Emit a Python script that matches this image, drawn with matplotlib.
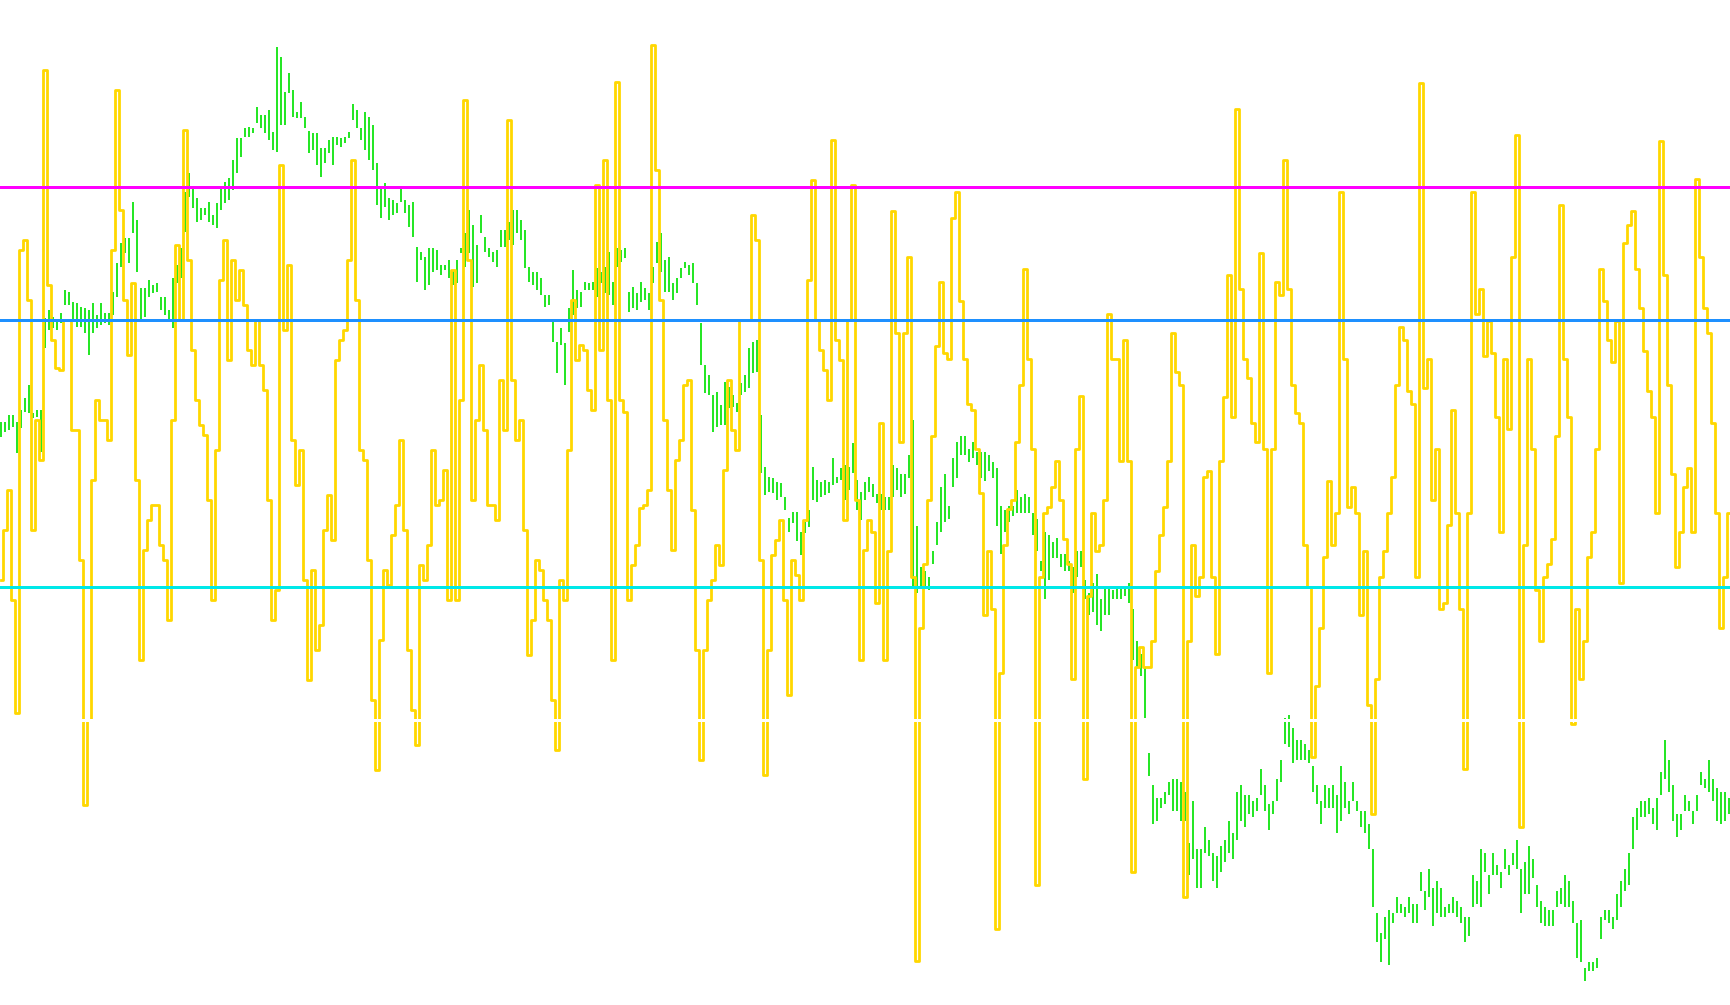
import numpy as np
import matplotlib.pyplot as plt

# price bars (high / low), one entry per sampled bar, left to right
bar_high = [
    107.8, 107.8, 108.5, 108.5, 107.8, 109.0, 110.2, 111.5, 108.7, 109.0,
    109.0, 118.2, 119.0, 118.3, 118.0, 118.7, 121.0, 120.8, 119.8, 119.7,
    119.3, 119.2, 119.0, 119.7, 118.5, 119.7, 118.7, 118.7, 120.8, 123.7,
    125.7, 126.2, 126.2, 129.8, 128.0, 121.2, 121.2, 122.0, 121.5, 121.7,
    120.3, 120.3, 119.0, 122.2, 123.5, 125.2, 130.8, 132.7, 131.2, 130.2,
    129.2, 129.2, 129.8, 128.5, 129.7, 131.3, 131.8, 132.2, 134.0, 136.2,
    136.2, 137.2, 137.3, 137.2, 139.3, 138.5, 138.5, 139.0, 136.8, 145.3,
    144.3, 140.8, 142.7,
    141.0, 138.8, 139.8, 138.3, 136.9, 136.7, 136.7, 135.2, 135.2, 136.0,
    136.3, 136.3, 136.2, 136.3, 136.8, 139.6, 139.0, 137.2, 138.8, 138.3,
    137.5, 133.7, 131.2, 131.7, 130.2, 130.0, 129.7, 131.2, 130.0, 129.5,
    129.8, 125.3, 124.8, 124.3, 125.2, 125.2, 125.0, 123.5, 123.5, 124.0,
    123.0, 124.0, 125.2, 126.7, 129.0, 127.5, 125.5, 128.5, 126.3, 125.2,
    124.8, 125.0, 127.0, 127.0, 127.8, 129.0, 129.0, 128.0, 127.0, 123.3,
    122.8, 122.8, 122.2, 120.5, 120.5, 117.8, 115.8, 117.2, 115.7, 119.2,
    123.0, 121.0,
    120.8, 121.8, 121.7, 121.8, 123.2, 122.8, 123.3, 124.8, 121.8, 125.2,
    125.0, 125.2, 120.8, 121.3, 120.7, 121.8, 121.2, 120.7, 123.3, 125.8,
    126.7, 124.0, 124.3, 121.7, 122.2, 123.2, 123.8, 123.5, 123.7, 121.7,
    117.7, 113.5, 112.5, 110.5, 110.8, 109.5, 111.8, 111.3, 110.5, 109.7,
    111.7, 112.5, 115.2, 115.8, 116.0, 108.5, 103.3, 102.3, 102.2, 101.8,
    101.7, 100.3, 98.2, 98.8, 98.8, 96.8, 97.8, 99.0, 103.3, 102.0,
    101.8, 102.0, 101.8, 104.2, 102.3, 103.2, 103.5, 103.3, 105.7, 102.0,
    100.8, 101.8, 102.3,
    101.6, 100.6, 100.6, 100.3, 100.3, 103.5, 103.2, 102.6, 102.6, 104.5,
    108.0, 97.4, 93.3, 92.9, 92.3, 94.9, 97.8, 101.3, 102.6, 99.4,
    104.2, 105.8, 106.4, 106.4, 105.1, 105.8, 104.8, 104.8, 104.8, 104.5,
    103.8, 103.2, 99.4, 99.0, 99.4, 99.4, 101.0, 100.3, 100.6, 100.3,
    98.7, 98.1, 93.9, 96.8, 96.5, 95.8, 96.2, 94.6, 94.6, 93.9,
    93.3, 94.9, 94.9, 92.0, 90.7, 91.7, 92.6, 90.1, 91.3, 91.3,
    91.0, 91.3, 91.3, 91.3, 91.7, 89.1, 85.9, 84.6, 83.3, 74.7,
    71.5, 70.2, 70.2, 70.8, 71.8, 72.1, 72.1, 71.8, 70.8, 65.7,
    69.9, 65.1, 65.1, 67.3, 66.0, 64.7, 64.4, 65.4, 66.0, 67.9,
    66.7, 70.8, 71.5, 70.5, 70.5, 69.9, 70.2, 73.1, 71.5, 69.6,
    69.9, 72.1, 74.0, 78.2, 78.5, 77.2, 76.0,
    76.0, 75.6, 75.0, 73.4, 71.5, 69.9, 71.5, 71.2, 71.5, 70.5,
    73.4, 71.8, 69.9, 71.8, 69.9, 68.9, 68.9, 67.6, 65.1, 58.7,
    56.7, 58.3, 59.0, 58.7, 60.3, 59.6, 59.3, 60.3, 59.6, 59.6,
    62.8, 60.9, 63.1, 61.2, 61.9, 61.2, 59.3, 59.6, 60.3, 59.9,
    59.3, 58.3, 58.3, 62.5, 61.9, 65.1, 64.7, 62.5, 64.7, 63.5,
    62.8, 65.1, 63.5, 64.7, 66.0, 63.1, 63.8, 65.4, 64.1, 61.5,
    59.9, 59.3, 59.0, 59.0, 60.9, 61.2, 62.5, 61.9, 59.9, 57.7,
    58.0, 53.2, 53.8, 53.8, 54.2, 58.3, 59.0, 59.0, 58.3, 60.6,
    61.9, 63.1, 64.7, 68.3, 69.2, 69.9, 69.9, 70.2, 69.2, 70.2,
    72.8, 76.0, 74.0, 71.5, 68.6, 68.6, 70.5, 69.9, 68.9, 70.5,
    72.8, 72.1, 74.0, 72.1, 71.2, 70.8, 70.8, 70.2,
]

bar_low = [
    106.3, 106.8, 107.0, 107.3, 104.7, 107.2, 108.8, 108.7, 108.2, 108.3,
    104.8, 115.2, 117.0, 117.2, 117.0, 117.7, 119.5, 119.5, 118.0, 117.3,
    117.3, 116.7, 114.5, 116.7, 117.2, 117.5, 117.7, 117.5, 118.5, 120.3,
    123.3, 124.7, 123.7, 126.7, 122.8, 118.0, 118.3, 120.3, 120.7, 120.8,
    119.0, 118.5, 117.8, 117.2, 121.7, 122.2, 126.8, 130.3, 129.2, 127.8,
    128.0, 128.5, 127.8, 127.5, 127.2, 129.0, 129.7, 130.0, 131.0, 132.7,
    134.3, 136.3, 136.3, 136.7, 137.7, 137.2, 136.7, 136.0, 135.0, 134.8,
    137.5, 137.5, 140.7,
    138.3, 138.2, 138.2, 137.2, 134.7, 135.0, 133.5, 132.3, 133.7, 134.7,
    133.5, 135.5, 135.3, 135.7, 136.2, 138.0, 137.2, 136.0, 135.0, 134.0,
    133.0, 129.5, 128.2, 129.3, 128.0, 128.5, 128.7, 129.8, 128.7, 127.3,
    126.3, 121.8, 124.0, 121.0, 121.5, 122.8, 123.0, 122.5, 123.0, 122.2,
    121.5, 121.7, 124.7, 123.3, 124.7, 121.3, 121.7, 126.7, 124.8, 124.3,
    123.8, 123.3, 125.3, 125.3, 126.0, 125.5, 126.7, 126.0, 123.2, 121.8,
    121.5, 121.0, 120.5, 119.3, 119.5, 115.8, 112.7, 115.5, 111.5, 116.8,
    118.5, 119.2,
    119.3, 121.0, 121.0, 121.0, 120.3, 121.7, 120.7, 120.5, 119.5, 123.3,
    123.8, 124.2, 118.8, 119.2, 119.0, 119.8, 120.0, 119.0, 121.7, 123.7,
    122.8, 120.8, 120.8, 120.0, 120.7, 122.2, 123.2, 122.5, 121.7, 119.5,
    113.5, 110.7, 110.5, 106.8, 107.3, 107.5, 107.5, 109.2, 109.3, 108.8,
    110.5, 110.8, 111.2, 112.7, 112.8, 102.7, 100.5, 100.8, 100.7, 100.0,
    100.3, 99.0, 96.8, 97.7, 95.9, 94.5, 96.7, 97.3, 100.0, 99.8,
    100.3, 100.5, 100.7, 101.5, 101.7, 102.0, 100.0, 101.0, 102.7, 99.0,
    98.0, 100.0, 100.8,
    100.3, 99.7, 99.0, 99.0, 99.0, 100.3, 101.0, 100.3, 100.6, 102.2,
    91.3, 90.7, 91.3, 91.3, 91.0, 93.6, 95.5, 96.8, 97.8, 98.1,
    101.3, 102.2, 104.5, 104.5, 103.8, 104.2, 103.5, 102.2, 101.9, 102.9,
    102.2, 97.4, 94.6, 96.8, 97.8, 98.4, 98.7, 98.7, 98.7, 98.7,
    96.5, 94.9, 92.9, 90.1, 92.0, 94.2, 94.2, 93.3, 92.9, 92.9,
    90.7, 92.3, 93.3, 90.1, 88.5, 88.8, 87.5, 86.9, 88.5, 88.5,
    90.1, 90.1, 90.1, 90.4, 89.7, 84.0, 83.3, 82.4, 78.2, 72.4,
    67.6, 67.9, 69.2, 69.6, 70.5, 68.9, 68.9, 67.9, 67.9, 62.5,
    64.1, 61.2, 61.2, 64.7, 64.4, 61.9, 61.2, 62.8, 63.8, 64.7,
    64.1, 66.0, 67.9, 67.3, 68.6, 68.3, 68.9, 70.5, 68.9, 67.0,
    68.6, 69.9, 71.8, 75.6, 75.3, 73.7, 74.0,
    74.0, 74.0, 73.7, 70.8, 69.6, 67.6, 69.2, 69.2, 69.2, 66.7,
    67.9, 69.2, 68.6, 69.9, 68.9, 67.3, 66.7, 65.1, 59.3, 55.8,
    53.8, 56.1, 53.5, 57.7, 58.7, 58.7, 58.3, 58.7, 57.7, 57.7,
    60.9, 59.0, 60.3, 57.4, 58.7, 58.3, 58.3, 58.7, 58.7, 58.3,
    57.7, 55.8, 56.4, 59.3, 59.6, 59.3, 62.8, 60.6, 62.5, 62.5,
    61.2, 63.1, 62.5, 63.5, 63.1, 58.7, 60.6, 60.6, 62.2, 59.3,
    57.7, 57.4, 57.4, 57.4, 59.3, 59.6, 59.3, 59.3, 57.7, 54.2,
    53.8, 51.9, 52.9, 52.9, 53.2, 56.1, 58.0, 57.7, 57.1, 58.0,
    59.3, 60.9, 61.5, 65.1, 67.0, 68.3, 68.3, 68.6, 67.6, 67.0,
    70.5, 72.1, 70.8, 67.9, 66.3, 67.0, 68.9, 68.9, 67.6, 68.9,
    71.5, 71.2, 70.8, 69.9, 67.9, 67.6, 67.9, 68.6,
]

# oscillator value on the same bars
osc = [
    21.0, 28.5, 34.5, 18.0, 1.0, 70.5, 72.0, 63.0, 28.5, 45.0,
    39.0, 97.5, 65.3, 57.0, 52.8, 52.5, 60.0, 60.0, 43.5, 43.5,
    24.0, -12.8, 0.0, 36.0, 48.0, 45.0, 45.0, 42.0, 70.5, 94.5,
    76.5, 63.0, 54.8, 65.5, 36.0, 9.0, 25.5, 30.0, 32.3, 32.3,
    26.3, 24.0, 15.0, 45.0, 71.3, 60.0, 88.5, 69.0, 55.5, 48.0,
    44.3, 42.8, 33.0, 18.0, 40.5, 66.0, 72.0, 54.0, 69.0, 63.0,
    67.5, 62.3, 55.5, 53.3, 60.0, 53.3, 49.5, 33.0, 15.0, 19.5,
    83.3, 58.5, 68.3,
    42.0, 35.3, 40.5, 21.0, 6.0, 22.5, 10.5, 14.3, 28.5, 33.8,
    27.0, 54.0, 57.0, 58.5, 69.0, 84.0, 63.0, 40.5, 39.0, 24.0,
    3.0, -7.5, 12.0, 22.5, 20.3, 27.8, 32.3, 42.0, 28.5, 10.5,
    1.5, -3.8, 23.3, 21.0, 26.3, 40.5, 32.3, 33.0, 37.5, 18.0,
    67.5, 18.0, 48.0, 93.0, 69.0, 33.0, 45.0, 53.3, 43.5, 32.3,
    32.3, 30.0, 51.0, 43.5, 90.0, 51.0, 42.0, 45.0, 28.5, 9.8,
    15.0, 24.0, 22.5, 18.0, 15.0, 3.0, -4.5, 21.0, 18.0, 40.5,
    63.0, 54.0,
    56.3, 55.5, 49.5, 46.5, 80.3, 55.5, 84.0, 48.0, 9.0, 95.7,
    48.0, 46.2, 18.0, 23.3, 26.3, 31.8, 32.3, 34.5, 101.3, 82.5,
    63.0, 45.0, 34.5, 25.5, 39.0, 42.0, 50.3, 51.0, 31.5, 10.5,
    -6.0, 10.5, 18.0, 21.0, 26.3, 23.3, 37.5, 51.0, 43.5, 40.5,
    60.0, 60.0, 60.0, 75.8, 72.0, 24.0, -8.3, 10.5, 24.8, 27.0,
    30.0, 18.0, 3.8, 24.0, 21.8, 18.0, 30.0, 66.0, 81.0, 60.0,
    55.5, 52.5, 48.0, 87.0, 57.0, 54.0, 30.0, 60.0, 80.3, 33.0,
    9.0, 25.5, 30.0,
    28.2, 17.6, 44.5, 9.0, 25.3, 76.3, 58.0, 41.7, 58.0, 69.5,
    21.5, -36.2, 13.8, 23.4, 33.0, 42.6, 56.1, 65.7, 55.1, 54.2,
    75.3, 79.2, 62.8, 54.2, 47.4, 46.5, 40.7, 34.0, 15.7, 25.3,
    16.7, -31.4, 7.0, 26.3, 31.6, 33.0, 41.7, 50.3, 67.6, 54.2,
    40.7, -24.7, 21.5, 31.1, 32.0, 34.9, 38.8, 33.0, 27.2, 23.4,
    6.1, 40.7, 48.6, -8.8, 18.6, 31.1, 25.3, 26.3, 33.0, 60.9,
    54.2, 54.2, 38.8, 57.0, 38.8, -22.8, 8.0, 10.9, 8.0, 8.0,
    11.9, 22.4, 27.7, 32.0, 38.8, 58.0, 52.2, 50.3, -26.6, 11.9,
    26.3, 18.6, 21.5, 36.4, 37.3, 21.5, 9.9, 38.8, 48.4, 66.7,
    45.5, 91.7, 64.7, 54.2, 51.3, 44.5, 41.7, 70.0, 40.7, 7.0,
    40.7, 65.7, 63.8, 84.0, 64.7, 50.3, 46.0,
    44.5, 26.3, 20.0, -5.5, 5.1, 13.8, 24.4, 35.9, 26.3, 31.1,
    79.2, 54.2, 32.0, 34.9, 31.1, 15.7, 25.3, 2.2, -14.1, 6.1,
    21.5, 25.3, 31.1, 36.4, 50.3, 59.0, 57.0, 49.4, 47.4, 21.5,
    95.5, 49.8, 54.2, 33.0, 40.7, 16.7, 17.6, 29.2, 46.5, 31.1,
    16.7, -7.4, 31.1, 79.2, 60.9, 64.7, 54.6, 59.9, 55.1, 45.5,
    28.2, 54.2, 43.6, 69.5, 87.8, -16.0, 26.3, 54.2, 40.7, 19.5,
    11.9, 21.5, 23.4, 27.2, 42.6, 77.2, 54.2, 45.5, -0.6, 16.7,
    6.1, 11.9, 24.4, 28.2, 40.7, 67.6, 62.8, 57.0, 53.7, 59.9,
    20.5, 71.5, 74.3, 76.3, 67.6, 61.8, 55.3, 49.4, 45.5, 31.1,
    86.8, 66.7, 50.3, 36.9, 22.9, 28.2, 34.9, 37.8, 28.2, 81.1,
    69.5, 61.8, 58.0, 44.5, 31.1, 13.8, 21.5, 31.1,
]

levels = [80, 60, 20, 0]
level_colors = ['#ff00ff', '#1e90ff', '#00e8e8', 'white']

x = np.arange(len(bar_high))

fig = plt.figure(figsize=(17.3, 10.05), dpi=100)
ax = fig.add_axes([0, 0, 1, 1])
ax.vlines(x, bar_low, bar_high, colors='#26e626', linewidth=1.44, antialiased=False)
ax.set_xlim(-0.25, len(x) - 0.75)
ax.set_ylim(49.5, 150)
ax.axis('off')

ax2 = ax.twinx()
ax2.plot(x, osc, drawstyle='steps-mid', color='#ffd700', lw=2.0, antialiased=True)
for lv, c in zip(levels, level_colors):
    ax2.axhline(lv, color=c, lw=0.8, antialiased=False, zorder=5)
ax2.set_ylim(-42.75, 108)
ax2.axis('off')

fig.savefig('out.png', dpi=100)
